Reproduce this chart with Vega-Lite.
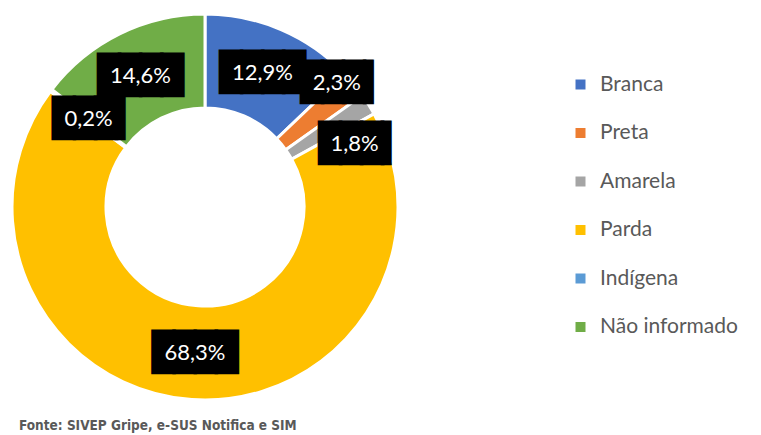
{
  "$schema": "https://vega.github.io/schema/vega-lite/v6.json",
  "width": 410,
  "height": 414,
  "padding": 0,
  "background": "white",
  "title": {
    "text": "Fonte: SIVEP Gripe, e-SUS Notifica e SIM",
    "orient": "bottom",
    "anchor": "start",
    "dx": 19,
    "offset": 5,
    "font": "DejaVu Sans Condensed, sans-serif",
    "fontWeight": "bold",
    "fontSize": 13.5,
    "color": "#595959"
  },
  "data": {
    "values": [
      {"cat": "Branca", "value": 12.9, "label": "12,9%", "ord": 1},
      {"cat": "Preta", "value": 2.3, "label": "2,3%", "ord": 2},
      {"cat": "Amarela", "value": 1.8, "label": "1,8%", "ord": 3},
      {"cat": "Parda", "value": 68.3, "label": "68,3%", "ord": 4},
      {"cat": "Indígena", "value": 0.2, "label": "0,2%", "ord": 5},
      {"cat": "Não informado", "value": 14.6, "label": "14,6%", "ord": 6}
    ]
  },
  "encoding": {
    "theta": {"field": "value", "type": "quantitative", "stack": true},
    "order": {"field": "ord", "type": "quantitative"}
  },
  "layer": [
    {
      "mark": {"type": "arc", "outerRadius": 193, "innerRadius": 99, "stroke": "white", "strokeWidth": 3},
      "encoding": {
        "color": {
          "field": "cat",
          "type": "nominal",
          "scale": {
            "domain": ["Branca", "Preta", "Amarela", "Parda", "Indígena", "Não informado"],
            "range": ["#4472C4", "#ED7D31", "#A5A5A5", "#FFC000", "#5B9BD5", "#70AD47"]
          },
          "legend": {
            "title": null,
            "orient": "none",
            "legendX": 570,
            "legendY": 74,
            "padding": 0,
            "symbolType": "square",
            "symbolSize": 100,
            "symbolStrokeWidth": 0,
            "labelFont": "Lato",
            "labelFontSize": 21,
            "labelColor": "#595959",
            "labelOffset": 9,
            "rowPadding": 26.5
          }
        }
      }
    },
    {
      "mark": {"type": "text", "radius": 146, "font": "DejaVu Sans Mono", "fontSize": 35, "color": "black", "stroke": "black", "strokeWidth": 3, "baseline": "middle", "align": "center"},
      "encoding": {
        "text": {
          "condition": [
            {"test": "datum.cat === 'Branca' || datum.cat === 'Parda' || datum.cat === 'Não informado'", "value": "████"}
          ],
          "value": ""
        }
      }
    },
    {
      "mark": {"type": "text", "radius": 146, "font": "DejaVu Sans Mono", "fontSize": 35, "color": "black", "stroke": "black", "strokeWidth": 3, "baseline": "middle", "align": "center", "dx": 6.6},
      "encoding": {
        "text": {
          "condition": [{"test": "datum.cat === 'Indígena'", "value": "███▍"}],
          "value": ""
        }
      }
    },
    {
      "mark": {"type": "text", "radius": 146, "font": "DejaVu Sans Mono", "fontSize": 35, "color": "black", "stroke": "black", "strokeWidth": 3, "baseline": "middle", "align": "center", "dx": 25.6, "dy": -31},
      "encoding": {
        "text": {
          "condition": [{"test": "datum.cat === 'Preta'", "value": "███▍"}],
          "value": ""
        }
      }
    },
    {
      "mark": {"type": "text", "radius": 146, "font": "DejaVu Sans Mono", "fontSize": 35, "color": "black", "stroke": "black", "strokeWidth": 3, "baseline": "middle", "align": "center", "dx": 32.6, "dy": 15},
      "encoding": {
        "text": {
          "condition": [{"test": "datum.cat === 'Amarela'", "value": "███▍"}],
          "value": ""
        }
      }
    },
    {
      "mark": {"type": "text", "radius": 146, "font": "Lato", "fontSize": 22, "color": "white", "baseline": "middle", "align": "center"},
      "encoding": {
        "text": {
          "condition": {"test": "datum.cat === 'Preta' || datum.cat === 'Amarela'", "value": ""},
          "field": "label", "type": "nominal"
        }
      }
    },
    {
      "mark": {"type": "text", "radius": 146, "font": "Lato", "fontSize": 22, "color": "white", "baseline": "middle", "align": "center", "dx": 19, "dy": -31},
      "encoding": {
        "text": {
          "condition": {"test": "datum.cat !== 'Preta'", "value": ""},
          "field": "label", "type": "nominal"
        }
      }
    },
    {
      "mark": {"type": "text", "radius": 146, "font": "Lato", "fontSize": 22, "color": "white", "baseline": "middle", "align": "center", "dx": 26, "dy": 15},
      "encoding": {
        "text": {
          "condition": {"test": "datum.cat !== 'Amarela'", "value": ""},
          "field": "label", "type": "nominal"
        }
      }
    }
  ]
}
